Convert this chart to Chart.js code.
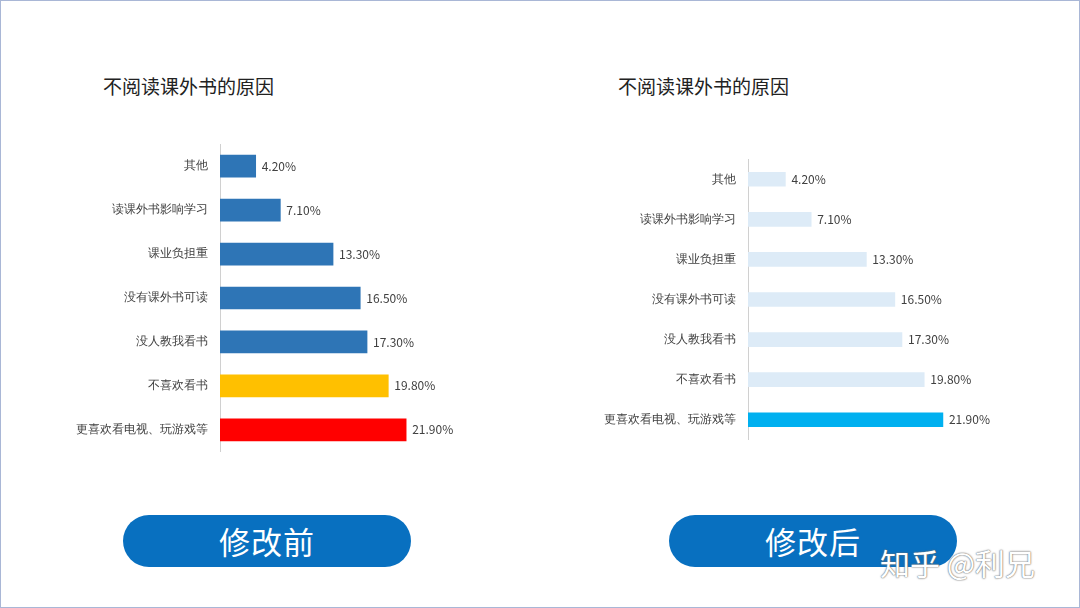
<!DOCTYPE html>
<html>
<head>
<meta charset="utf-8">
<script src="https://cdn.jsdelivr.net/npm/chart.js@4"></script>
<style>
  body { margin: 0; width: 1080px; height: 608px; background: #fff; position: relative; overflow: hidden;
         font-family: "Noto Sans CJK SC", "Noto Sans", sans-serif; }
  .frame { position: absolute; left: 0; top: 0; width: 1078px; height: 606px; border: 1px solid #a9b7d6; }
  .title { position: absolute; font-size: 19px; color: #222; }
  .box { position: absolute; }
  .pill { position: absolute; height: 52px; border-radius: 26px; background: #0870c0; color: #fff;
          font-size: 31px; text-align: center; line-height: 52px; letter-spacing: 1px; }
  .mark { position: absolute; left: 880px; top: 540px; font-size: 30px; color: #fff;
          text-shadow: 0 0 2px #777, 0 0 1px #555; }
</style>
</head>
<body>
<div class="frame"></div>
<div class="title" style="left:103px;top:72px">不阅读课外书的原因</div>
<div class="title" style="left:618px;top:72px">不阅读课外书的原因</div>
<div class="box" style="left:60px;top:125px;width:415px;height:346px"><canvas id="before"></canvas></div>
<div class="box" style="left:588px;top:140px;width:427px;height:319px"><canvas id="after"></canvas></div>
<div class="pill" style="left:123px;top:515px;width:288px">修改前</div>
<div class="pill" style="left:669px;top:515px;width:288px">修改后</div>
<div class="mark">知乎 @利兄</div>
<script>
const reasons = ['其他', '读课外书影响学习', '课业负担重', '没有课外书可读', '没人教我看书', '不喜欢看书', '更喜欢看电视、玩游戏等'];
const shares = [4.2, 7.1, 13.3, 16.5, 17.3, 19.8, 21.9];
const beforeColors = ['#2e75b6', '#2e75b6', '#2e75b6', '#2e75b6', '#2e75b6', '#ffc000', '#ff0000'];
const afterColors = ['#ddebf7', '#ddebf7', '#ddebf7', '#ddebf7', '#ddebf7', '#ddebf7', '#00b0f0'];

const valueLabels = {
  id: 'valueLabels',
  afterDatasetsDraw(chart) {
    const ctx = chart.ctx;
    ctx.save();
    ctx.font = '12px "Noto Sans CJK SC", sans-serif';
    ctx.fillStyle = '#404040';
    ctx.textBaseline = 'middle';
    chart.getDatasetMeta(0).data.forEach((bar, i) => {
      ctx.fillText(shares[i].toFixed(2) + '%', bar.x + 6, bar.y);
    });
    ctx.restore();
  },
};

function makeChart(id, colors, thickness) {
  return new Chart(document.getElementById(id), {
    type: 'bar',
    data: { labels: reasons, datasets: [{ data: shares, backgroundColor: colors, barThickness: thickness }] },
    options: {
      indexAxis: 'y',
      responsive: true,
      maintainAspectRatio: false,
      animation: false,
      layout: { padding: 0 },
      scales: {
        x: { display: false, min: 0, max: 30 },
        y: {
          grid: { display: false, drawTicks: false },
          border: { color: '#d0d0d0' },
          ticks: { color: '#404040', font: { size: 12 }, padding: 12 },
          afterFit: (s) => { s.width = 160; },
        },
      },
      plugins: { legend: { display: false }, tooltip: { enabled: false } },
    },
    plugins: [valueLabels],
  });
}

makeChart('before', beforeColors, 22);
makeChart('after', afterColors, 14);
</script>
</body>
</html>
